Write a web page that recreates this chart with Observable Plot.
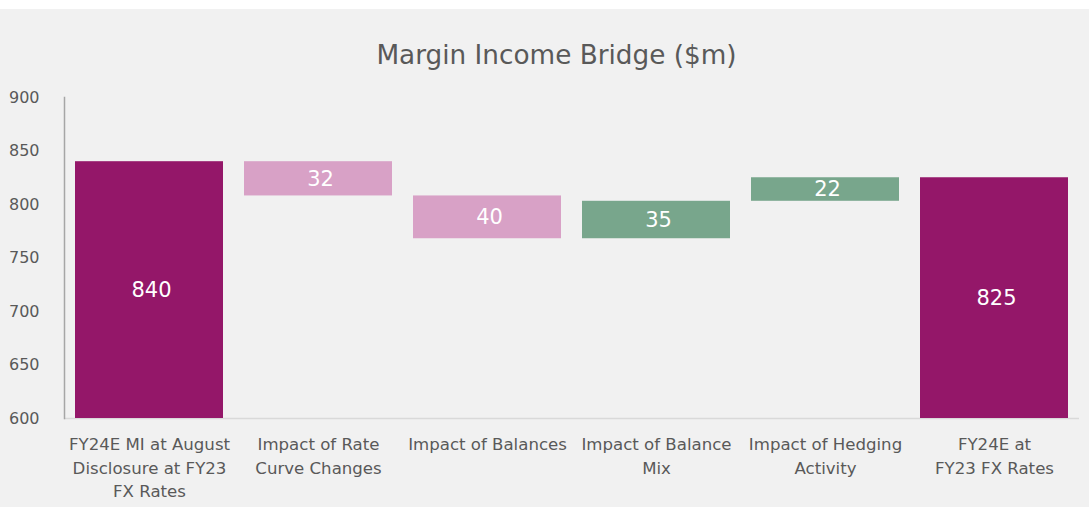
<!DOCTYPE html>
<html><head><meta charset="utf-8">
<script src="https://cdn.jsdelivr.net/npm/d3@7"></script>
<script src="https://cdn.jsdelivr.net/npm/@observablehq/plot@0.6"></script>
<style>
html,body{margin:0;padding:0;background:#fff;}
#wrap{position:absolute;left:0;top:9px;width:1089px;height:498px;background:#f1f1f1;overflow:hidden;}
#title{position:absolute;left:12px;width:1089px;top:31px;line-height:30px;text-align:center;font-family:"DejaVu Sans";font-size:26.3px;color:#595959;}
#chart{position:absolute;left:0;top:0;}
</style></head><body>
<div id="wrap"><div id="chart"></div><div id="title">Margin Income Bridge ($m)</div></div>
<script>
const categories = ["start", "rate", "balances", "mix", "hedging", "end"];
const tickLabels = [
  "FY24E MI at August\nDisclosure at FY23\nFX Rates",
  "Impact of Rate\nCurve Changes",
  "Impact of Balances",
  "Impact of Balance\nMix",
  "Impact of Hedging\nActivity",
  "FY24E at\nFY23 FX Rates"
];
const values = [840, -32, -40, 35, 22, 825];
const kinds = ["total", "decrease", "decrease", "increase", "increase", "total"];
const yTicks = [600, 650, 700, 750, 800, 850, 900];
const yDomain = [600, 900];

let cum = 0;
const data = categories.map((c, i) => {
  let start, end;
  if (kinds[i] === "total") { start = 0; end = values[i]; cum = values[i]; }
  else { start = cum; end = cum + values[i]; cum = end; }
  return {cat: c, start, end, kind: kinds[i], label: String(Math.abs(values[i]))};
});
const labelOf = new Map(categories.map((c, i) => [c, tickLabels[i]]));

const chart = Plot.plot({
  width: 1089,
  height: 498,
  marginTop: 88,
  marginBottom: 89,
  marginLeft: 64,
  marginRight: 10,
  style: {background: "transparent", fontFamily: "DejaVu Sans", overflow: "visible"},
  x: {domain: categories, paddingInner: 0.126, paddingOuter: 0.06, axis: null},
  y: {domain: yDomain, axis: null},
  color: {domain: ["total", "decrease", "increase"], range: ["#941769", "#d8a1c6", "#78a68c"]},
  marks: [
    Plot.ruleY([yDomain[0]], {stroke: "#d9d9d9", strokeWidth: 1.5}),
    Plot.frame({anchor: "left", stroke: "#a6a6a6", strokeWidth: 1.5}),
    Plot.axisY({ticks: yTicks, tickSize: 0, tickPadding: 25, fontSize: 16, fill: "#595959", label: null}),
    Plot.axisX({tickSize: 0, tickPadding: 15, fontSize: 16.6, lineHeight: 1.42, fill: "#595959", label: null,
      tickFormat: d => labelOf.get(d)}),
    Plot.barY(data, {x: "cat", y1: "start", y2: "end", fill: "kind", clip: true}),
    Plot.text(data, {x: "cat", y: d => (Math.max(d.start, yDomain[0]) + d.end) / 2, text: "label",
      fill: "white", fontSize: 21, dx: 2})
  ]
});
document.getElementById("chart").appendChild(chart);
</script>
</body></html>
